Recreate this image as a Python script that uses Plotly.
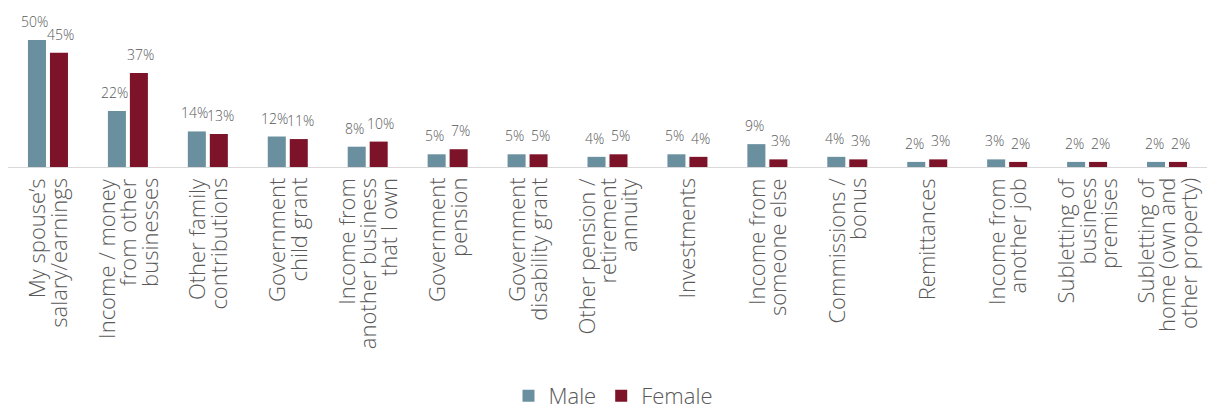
import plotly.graph_objects as go

categories = [
    "My spouse’s<br>salary/earnings",
    "Income / money<br>from other<br>businesses",
    "Other family<br>contributions",
    "Government<br>child grant",
    "Income from<br>another business<br>that I own",
    "Government<br>pension",
    "Government<br>disability grant",
    "Other pension /<br>retirement<br>annuity",
    "Investments",
    "Income from<br>someone else",
    "Commissions /<br>bonus",
    "Remittances",
    "Income from<br>another job",
    "Subletting of<br>business<br>premises",
    "Subletting of<br>home (own and<br>other property)",
]
male = [50, 22, 14, 12, 8, 5, 5, 4, 5, 9, 4, 2, 3, 2, 2]
female = [45, 37, 13, 11, 10, 7, 5, 5, 4, 3, 3, 3, 2, 2, 2]

MALE_COLOR = "#6A909F"
FEMALE_COLOR = "#7D1328"
TEXT_COLOR = "#595959"
FONT = "Open Sans, Noto Sans, sans-serif"

series = [("Male", male, MALE_COLOR, -13), ("Female", female, FEMALE_COLOR, 13)]

fig = go.Figure()
for name, vals, color, _ in series:
    fig.add_trace(go.Bar(
        name=name,
        x=categories,
        y=vals,
        marker=dict(color=color, line=dict(width=0)),
        hovertemplate="%{y}%<extra>" + name + "</extra>",
    ))

annotations = []
# value labels above each bar
for name, vals, color, shift in series:
    for cat, v in zip(categories, vals):
        annotations.append(dict(
            x=cat, y=v, xref="x", yref="y",
            text=f"{v}%", showarrow=False,
            xanchor="center", yanchor="bottom",
            xshift=shift, yshift=7,
            font=dict(size=14, color=TEXT_COLOR, family=FONT, weight=300),
        ))

# rotated category labels, one annotation per line for tight line spacing
LINE_STEP = 21.5
for cat in categories:
    lines = cat.split("<br>")
    n = len(lines)
    for i, line in enumerate(lines):
        annotations.append(dict(
            x=cat, y=0, xref="x", yref="paper",
            text=line, showarrow=False, textangle=-90,
            xanchor="center", yanchor="top",
            xshift=(i - (n - 1) / 2) * LINE_STEP - 1, yshift=-9,
            font=dict(size=22, color=TEXT_COLOR, family=FONT, weight=300),
        ))

fig.update_layout(
    width=1207,
    height=409,
    margin=dict(l=8, r=0, t=10, b=242),
    paper_bgcolor="white",
    plot_bgcolor="white",
    barmode="group",
    bargap=0.45,
    bargroupgap=0.18,
    font=dict(family=FONT, color=TEXT_COLOR),
    annotations=annotations,
    xaxis=dict(
        showticklabels=False,
        showline=True,
        linecolor="#D9D9D9",
        linewidth=1,
        ticks="",
        showgrid=False,
    ),
    yaxis=dict(
        range=[0, 61.8],
        visible=False,
        showgrid=False,
        zeroline=False,
    ),
    legend=dict(
        orientation="h",
        x=0.505,
        xanchor="center",
        yref="container",
        y=0.032,
        yanchor="middle",
        font=dict(size=22, color=TEXT_COLOR, family=FONT, weight=300),
        traceorder="normal",
    ),
    showlegend=True,
)

fig.write_html("out.html")
